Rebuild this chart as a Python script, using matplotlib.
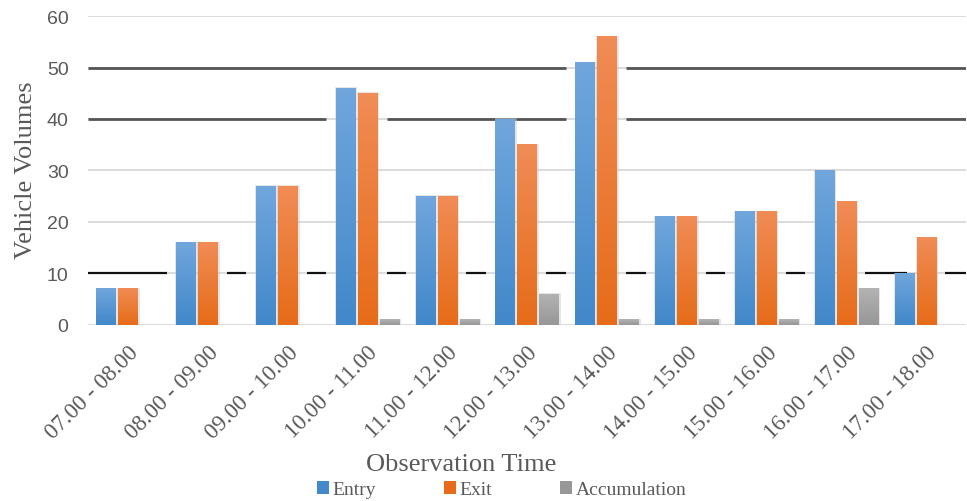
import numpy as np
import matplotlib.pyplot as plt
from matplotlib.colors import LinearSegmentedColormap
from matplotlib.patches import Patch

periods = ['07.00 - 08.00', '08.00 - 09.00', '09.00 - 10.00', '10.00 - 11.00',
           '11.00 - 12.00', '12.00 - 13.00', '13.00 - 14.00', '14.00 - 15.00',
           '15.00 - 16.00', '16.00 - 17.00', '17.00 - 18.00']
entry = [7, 16, 27, 46, 25, 40, 51, 21, 22, 30, 10]
exit_ = [7, 16, 27, 45, 25, 35, 56, 21, 22, 24, 17]
accumulation = [0, 0, 0, 1, 1, 6, 1, 1, 1, 7, 0]

series = [('Entry', entry, '#70a6dc', '#4288ca'),
          ('Exit', exit_, '#f08c55', '#e66c19'),
          ('Accumulation', accumulation, '#b3b3b3', '#979797')]

serif = 'Liberation Serif'
sans = 'Liberation Sans'
txt = '#595959'

fig = plt.figure(figsize=(9.67, 5.02), dpi=100)
ax = fig.add_axes([0.091, 0.351, 0.908, 0.615])

x = np.arange(len(periods))
w = 0.24
step = 0.275
offsets = [-step, 0, step]

# light grid
for yv in range(0, 61, 10):
    ax.axhline(yv, color='#d9d9d9', lw=1.3, zorder=0.5)

# darker lines at 10, 40, 50, broken around tall bars
dark = [(10, '#111111', 1.6), (40, '#555555', 2.0), (50, '#555555', 2.0)]
halo = 0.12
for level, col, lw in dark:
    cuts = []
    for (name, vals, c1, c2), off in zip(series, offsets):
        for xi, v in zip(x, vals):
            if v > level:
                cuts.append((xi + off - w / 2 - halo, xi + off + w / 2 + halo))
    cuts.sort()
    start = -0.5
    for a, b in cuts:
        if a > start:
            ax.plot([start, a], [level, level], color=col, lw=lw, zorder=1,
                    solid_capstyle='butt')
        start = max(start, b)
    if start < 10.5:
        ax.plot([start, 10.5], [level, level], color=col, lw=lw, zorder=1,
                solid_capstyle='butt')

# gradient bars
for (name, vals, c_top, c_bot), off in zip(series, offsets):
    cmap = LinearSegmentedColormap.from_list(name, [c_bot, c_top])
    grad = np.linspace(1, 0, 64).reshape(-1, 1)
    for xi, v in zip(x, vals):
        if v <= 0:
            continue
        x0 = xi + off - w / 2
        # soft shadow
        ax.bar(xi + off + 0.01, v + 0.25, width=w + 0.04, bottom=-0.1,
               color='#c8c8c8', alpha=0.45, zorder=2, linewidth=0)
        ax.imshow(grad, cmap=cmap, extent=[x0, x0 + w, 0, v], aspect='auto',
                  zorder=3, interpolation='bilinear', origin='upper')

ax.set_xlim(-0.5, 10.5)
ax.set_ylim(0, 60)
ax.set_yticks(range(0, 61, 10))
ax.set_xticks(x)
ax.set_xticklabels(periods, rotation=45, ha='right', rotation_mode='anchor',
                   fontfamily=serif, fontsize=16.5, color=txt)
for lab in ax.get_yticklabels():
    lab.set_fontfamily(sans)
    lab.set_fontsize(14)
    lab.set_color(txt)
ax.tick_params(axis='both', length=0)
ax.tick_params(axis='y', pad=14)
ax.tick_params(axis='x', pad=12)
for s in ax.spines.values():
    s.set_visible(False)

fig.text(0.027, 0.66, 'Vehicle Volumes', rotation=90, ha='center', va='center',
         fontfamily=serif, fontsize=19, color=txt)
fig.text(0.477, 0.074, 'Observation Time', ha='center', va='center',
         fontfamily=serif, fontsize=19, color=txt)

handles = [Patch(facecolor=c2, label=n) for n, v, c1, c2 in series]
fig.legend(handles=handles, loc='center', bbox_to_anchor=(0.519, 0.022), ncol=3,
           frameon=False, prop={'family': serif, 'size': 14},
           labelcolor=txt, handlelength=0.6, handleheight=0.6,
           handletextpad=0.2, columnspacing=3.5, borderpad=0)

fig.savefig('out.png', dpi=100)
